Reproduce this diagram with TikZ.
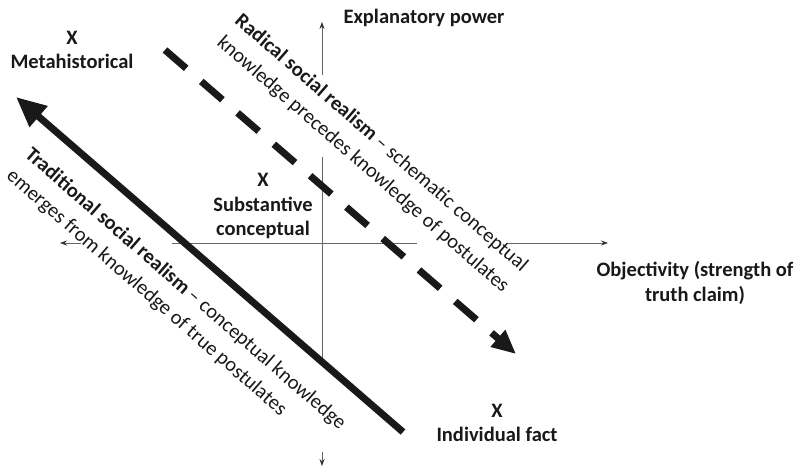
\documentclass[tikz,border=0pt]{standalone}
\usepackage{fontspec}
\setmainfont{Carlito}
\usetikzlibrary{arrows.meta}
\newcommand\RadicalText{\textbf{Radical social realism} -- schematic conceptual\\knowledge precedes knowledge of postulates}
\newcommand\TraditionalText{\textbf{Traditional social realism} -- conceptual knowledge\\emerges from knowledge of true postulates}
\tikzset{
  axisline/.style={color=black!60, line width=0.8pt, -{Stealth[length=7pt,width=5pt,black!80]}},
  axisgap/.style={color=black!60, line width=0.8pt},
  pointlabel/.style={font=\fontsize{20.5}{24.5}\selectfont\bfseries, text=black!90, align=center, inner sep=0pt},
  slantlabel/.style={font=\fontsize{20.5}{28}\selectfont, text=black!90, rotate=-41, inner sep=0pt},
}

\begin{document}
\begin{tikzpicture}[x=1pt,y=-1pt]
\path[use as bounding box, fill=white] (0,0) rectangle (798,469);
% Drawing axes
\coordinate (ytop) at (322,22);
\coordinate (ytopend) at (322,75);
\coordinate (ymidA) at (322,157);
\coordinate (ymidB) at (322,360);
\coordinate (ybotend) at (322,452);
\coordinate (ybot) at (322,466);
\coordinate (xleft) at (60,243);
\coordinate (xleftend) at (81,243);
\coordinate (xmidA) at (172,243);
\coordinate (xmidB) at (417,243);
\coordinate (xrightend) at (506,243);
\coordinate (xright) at (608,243);
\draw[axisline] (ytopend) -- (ytop);
\draw[axisgap] (ymidA) -- (ymidB);
\draw[axisline] (ybotend) -- (ybot);
\draw[axisline] (xleftend) -- (xleft);
\draw[axisgap] (xmidA) -- (xmidB);
\draw[axisline] (xrightend) -- (xright);
% Done with axes; drawing the two realisms
\coordinate (tradtail) at (403,432);
\coordinate (tradtip) at (16,97);
\coordinate (radtail) at (165,50);
\coordinate (radtip) at (516,354);
\draw[color=black!90, line width=7pt, -{Triangle[length=30pt,width=26pt]}] (tradtail) -- (tradtip);
\draw[color=black!90, line width=7pt, dash pattern=on 28pt off 20pt, -{Triangle[length=24pt,width=21pt]}] (radtail) -- (radtip);
\node[slantlabel, align=center] (radical) at (372,154) {\RadicalText};
\node[slantlabel, align=left] (traditional) at (176,300) {\TraditionalText};
% Done with realisms; drawing point labels
\node[pointlabel] (metahist) at (72,50) {X\\Metahistorical};
\node[pointlabel] (substantive) at (263,206) {X\\Substantive\\conceptual};
\node[pointlabel] (indfact) at (497,423) {X\\Individual fact};
\node[pointlabel] (explpower) at (424,18) {Explanatory power};
\node[pointlabel] (objectivity) at (695,283) {Objectivity (strength of\\truth claim)};
% Done with labels
\end{tikzpicture}
\end{document}
